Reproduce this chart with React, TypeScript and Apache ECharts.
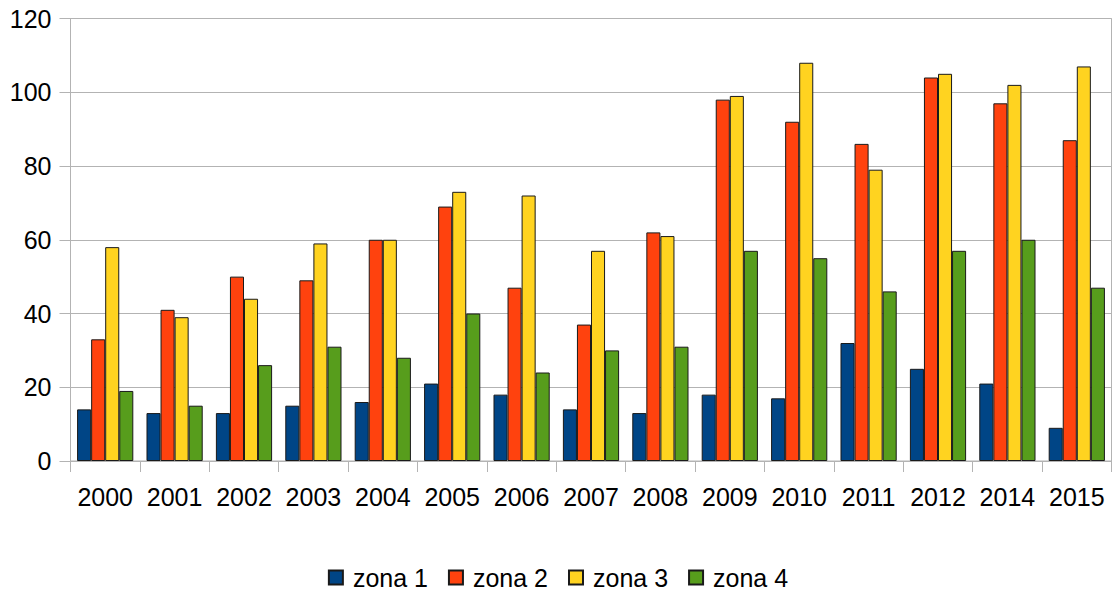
import React, { useEffect, useRef } from "react";
import * as echarts from "echarts";

const categories = ["2000", "2001", "2002", "2003", "2004", "2005", "2006", "2007", "2008", "2009", "2010", "2011", "2012", "2014", "2015"];
const zona1 = [14, 13, 13, 15, 16, 21, 18, 14, 13, 18, 17, 32, 25, 21, 9];
const zona2 = [33, 41, 50, 49, 60, 69, 47, 37, 62, 98, 92, 86, 104, 97, 87];
const zona3 = [58, 39, 44, 59, 60, 73, 72, 57, 61, 99, 108, 79, 105, 102, 107];
const zona4 = [19, 15, 26, 31, 28, 40, 24, 30, 31, 57, 55, 46, 57, 60, 47];
const seriesNames = ["zona 1", "zona 2", "zona 3", "zona 4"];
const colors = ["#004586", "#ff420e", "#ffd320", "#579d1c"];

export default function App() {
  const ref = useRef<HTMLDivElement>(null);
  useEffect(() => {
    if (!ref.current) return;
    const chart = echarts.init(ref.current, null, { renderer: "svg" });
    const font = "'Liberation Sans', Arial, sans-serif";
    const data = [zona1, zona2, zona3, zona4];
    chart.setOption({
      animation: false,
      textStyle: { fontFamily: font },
      grid: {
        left: 70.5,
        right: 4.5,
        top: 18.5,
        bottom: 137,
        show: true,
        borderColor: "#b3b3b3",
        borderWidth: 1,
      },
      legend: {
        bottom: 3,
        left: "center",
        itemWidth: 14,
        itemHeight: 14,
        itemGap: 20,
        icon: "rect",
        textStyle: { fontSize: 25, color: "#000", fontFamily: font, padding: [0, 0, 0, 5] },
        data: seriesNames,
      },
      xAxis: {
        type: "category",
        data: categories,
        axisLine: { lineStyle: { color: "#b3b3b3", width: 1 } },
        axisTick: { show: true, length: 11, interval: 0, lineStyle: { color: "#b3b3b3" } },
        axisLabel: { fontSize: 25, color: "#000", margin: 23, interval: 0, hideOverlap: false, fontFamily: font },
      },
      yAxis: {
        type: "value",
        min: 0,
        max: 120,
        interval: 20,
        axisLine: { show: true, lineStyle: { color: "#b3b3b3", width: 1 } },
        axisTick: { show: true, length: 11, lineStyle: { color: "#b3b3b3" } },
        axisLabel: { fontSize: 25, color: "#000", margin: 19, fontFamily: font },
        splitLine: { lineStyle: { color: "#b3b3b3", width: 1 } },
      },
      series: data.map((d, i) => ({
        name: seriesNames[i],
        type: "bar",
        data: d,
        barGap: "0%",
        barCategoryGap: "19%",
        itemStyle: { color: colors[i], borderColor: "#1a1a1a", borderWidth: 1 },
      })),
    });
    return () => chart.dispose();
  }, []);
  return (
    <div
      ref={ref}
      style={{ position: "fixed", left: 0, top: 0, width: 1116, height: 598, background: "#fff" }}
    />
  );
}
